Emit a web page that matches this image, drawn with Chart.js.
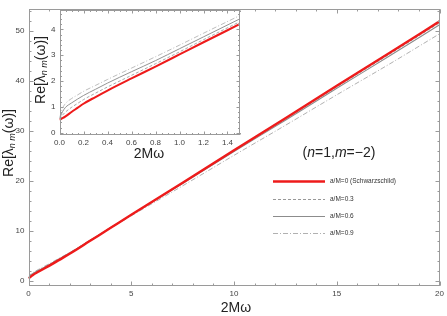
<!DOCTYPE html>
<html><head><meta charset="utf-8">
<script src="https://cdn.jsdelivr.net/npm/chart.js@4/dist/chart.umd.min.js"></script>
<style>
html,body{margin:0;padding:0;background:#fff;}
#wrap{position:relative;width:447px;height:316px;overflow:hidden;}
canvas{position:absolute;left:0;top:0;}
</style></head><body>
<div id="wrap"><canvas id="main" width="447" height="316"></canvas><canvas id="inset" width="250" height="170"></canvas></div>
<script>
// ---- data ----
const mainX   = [0, 0.1, 0.2, 0.5, 1, 1.5, 2, 3, 4, 5, 7.5, 10, 12.5, 15, 17.5, 20];
const mainA0  = [0.5, 0.8, 1.12, 1.86, 3.0, 4.2, 5.4, 8.0, 10.6, 13.2, 19.6, 26.1, 32.5, 39.0, 45.4, 51.9];
const mainA03 = [0.52, 0.98, 1.28, 2.0, 3.12, 4.29, 5.48, 8.04, 10.61, 13.2, 19.55, 26.0, 32.35, 38.8, 45.15, 51.6];
const mainA06 = [0.55, 1.15, 1.44, 2.13, 3.22, 4.4, 5.57, 8.12, 10.65, 13.2, 19.48, 25.85, 32.12, 38.5, 44.8, 51.2];
const mainA09 = [0.58, 1.32, 1.6, 2.32, 3.4, 4.53, 5.65, 8.1, 10.55, 13.0, 19.0, 25.1, 31.1, 37.2, 43.2, 49.4];

const insetX   = [0, 0.025, 0.05, 0.1, 0.15, 0.2, 0.3, 0.4, 0.6, 0.8, 1.0, 1.2, 1.5];
const insetA0  = [0.5, 0.56, 0.63, 0.8, 0.96, 1.12, 1.38, 1.63, 2.1, 2.56, 3.03, 3.5, 4.2];
const insetA03 = [0.52, 0.68, 0.80, 0.98, 1.13, 1.28, 1.53, 1.77, 2.22, 2.67, 3.13, 3.6, 4.29];
const insetA06 = [0.55, 0.81, 0.98, 1.15, 1.30, 1.44, 1.68, 1.92, 2.36, 2.79, 3.25, 3.71, 4.4];
const insetA09 = [0.58, 0.94, 1.13, 1.32, 1.46, 1.6, 1.83, 2.06, 2.5, 2.94, 3.39, 3.85, 4.53];

const seriesLabels = ['a/M=0 (Schwarzschild)', 'a/M=0.3', 'a/M=0.6', 'a/M=0.9'];
const mainXTicks  = [0, 5, 10, 15, 20];
const mainYTicks  = [0, 10, 20, 30, 40, 50];
const insetXTicks = [0, 0.2, 0.4, 0.6, 0.8, 1.0, 1.2, 1.4];
const insetYTicks = [0, 1, 2, 3, 4];
const xTitle = '2M\u03C9';
const annotation = ['(', 'n', '=1,', 'm', '=\u22122)'];

// ---- styles ----
const FONT = "'Liberation Sans', Arial, sans-serif";
const styles = [
  {color:'#ee1b1b', width:2.4, dash:[]},
  {color:'#8c8c8c', width:0.9, dash:[3,2]},
  {color:'#8c8c8c', width:1.1, dash:[]},
  {color:'#a8a8a8', width:0.9, dash:[5,2,1,2]}
];

function makeDatasets(xs, series, widthScale){
  return series.map((ys, i) => ({
    label: seriesLabels[i],
    data: xs.map((x, j) => ({x: x, y: ys[j]})),
    borderColor: styles[i].color,
    borderWidth: styles[i].width * widthScale,
    borderDash: styles[i].dash,
    pointRadius: 0,
    fill: false,
    cubicInterpolationMode: 'monotone'
  }));
}

function drawReLambda(ctx, cx, cy, size){
  const parts = [
    {t:'Re[\u03BB', f: size + 'px ' + FONT, dy: 0},
    {t:'n m', f: 'italic ' + Math.round(size*0.62) + 'px ' + FONT, dy: size*0.28},
    {t:'(\u03C9)]', f: size + 'px ' + FONT, dy: 0}
  ];
  ctx.save();
  ctx.translate(cx, cy);
  ctx.rotate(-Math.PI/2);
  let total = 0;
  parts.forEach(p => { ctx.font = p.f; p.w = ctx.measureText(p.t).width; total += p.w; });
  let x = -total/2;
  ctx.fillStyle = '#222';
  ctx.textBaseline = 'middle';
  ctx.textAlign = 'left';
  parts.forEach(p => { ctx.font = p.f; ctx.fillText(p.t, x, p.dy); x += p.w; });
  ctx.restore();
}

function framePlugin(cfg){
  return {
    id: 'frame',
    beforeDatasetsDraw(chart){
      const a = chart.chartArea, ctx = chart.ctx;
      ctx.save(); ctx.fillStyle = '#fff';
      ctx.fillRect(a.left, a.top, a.right - a.left, a.bottom - a.top);
      ctx.restore();
    },
    afterDatasetsDraw(chart){
      const a = chart.chartArea, ctx = chart.ctx, sx = chart.scales.x, sy = chart.scales.y;
      ctx.save();
      ctx.strokeStyle = '#9a9a9a';
      ctx.lineWidth = 1;
      const L = Math.round(a.left) + 0.5, R = Math.round(a.right) - 0.5;
      const T = Math.round(a.top) + 0.5, B = Math.round(a.bottom) - 0.5;
      ctx.strokeRect(L, T, R - L, B - T);
      ctx.beginPath();
      const tick = (v, len, axis) => {
        if (axis === 'x') {
          const p = Math.round(sx.getPixelForValue(v)) + 0.5;
          if (p < L - 1 || p > R + 1) return;
          ctx.moveTo(p, B); ctx.lineTo(p, B - len);
          ctx.moveTo(p, T); ctx.lineTo(p, T + len);
        } else {
          const p = Math.round(sy.getPixelForValue(v)) + 0.5;
          if (p < T - 1 || p > B + 1) return;
          ctx.moveTo(L, p); ctx.lineTo(L + len, p);
          ctx.moveTo(R, p); ctx.lineTo(R - len, p);
        }
      };
      for (let v = cfg.xMin; v <= cfg.xMax + 1e-9; v += cfg.xMinor) tick(+v.toFixed(4), cfg.minorLen, 'x');
      for (let v = cfg.yMinorStart; v <= cfg.yMax + 1e-9; v += cfg.yMinor) tick(+v.toFixed(4), cfg.minorLen, 'y');
      cfg.xTicks.forEach(v => tick(v, cfg.majorLen, 'x'));
      cfg.yTicks.forEach(v => tick(v, cfg.majorLen, 'y'));
      ctx.stroke();
      ctx.restore();
    },
    afterDraw(chart){
      const ctx = chart.ctx;
      drawReLambda(ctx, cfg.yTitle[0], cfg.yTitle[1], 14);
      ctx.save();
      ctx.fillStyle = '#222';
      ctx.font = '14px ' + FONT;
      ctx.textAlign = 'center';
      ctx.textBaseline = 'middle';
      ctx.fillText(xTitle, cfg.xTitle[0], cfg.xTitle[1]);
      ctx.restore();
      if (cfg.extra) cfg.extra(chart);
    }
  };
}

function drawLegendAndNote(chart){
  const ctx = chart.ctx;
  // annotation (n=1,m=-2)
  ctx.save();
  ctx.fillStyle = '#222';
  ctx.textBaseline = 'middle';
  ctx.textAlign = 'left';
  const fonts = annotation.map((t, i) => (i === 1 || i === 3 ? 'italic ' : '') + '14px ' + FONT);
  let tw = 0;
  const ws = annotation.map((t, i) => { ctx.font = fonts[i]; const w = ctx.measureText(t).width; tw += w; return w; });
  let x = 339 - tw/2;
  annotation.forEach((t, i) => { ctx.font = fonts[i]; ctx.fillText(t, x, 153); x += ws[i]; });
  // legend
  const rows = [181, 199, 216, 233];
  chart.data.datasets.forEach((ds, i) => {
    ctx.save();
    ctx.strokeStyle = ds.borderColor;
    ctx.lineWidth = ds.borderWidth;
    ctx.setLineDash(ds.borderDash);
    ctx.beginPath();
    ctx.moveTo(273, rows[i] + 0.5); ctx.lineTo(325, rows[i] + 0.5);
    ctx.stroke();
    ctx.restore();
    ctx.font = '6.5px ' + FONT;
    ctx.fillStyle = '#333';
    ctx.fillText(ds.label, 330, rows[i]);
  });
  ctx.restore();
}

const tickFont = {family: FONT, size: 8};
const tickColor = '#444';

// ---- main chart ----
new Chart(document.getElementById('main'), {
  type: 'line',
  data: { datasets: makeDatasets(mainX, [mainA0, mainA03, mainA06, mainA09], 1) },
  options: {
    responsive: false, animation: false, devicePixelRatio: 1,
    layout: { padding: {left: 0, right: 6, top: 1, bottom: 0} },
    plugins: { legend: {display: false}, tooltip: {enabled: false} },
    scales: {
      x: {
        type: 'linear', min: 0, max: 20,
        grid: {display: false, drawTicks: false}, border: {display: false},
        afterBuildTicks: s => { s.ticks = mainXTicks.map(v => ({value: v})); },
        afterFit: s => { s.height = 30; },
        ticks: {font: tickFont, color: tickColor, padding: 3, maxRotation: 0, autoSkip: false}
      },
      y: {
        type: 'linear', min: -1.03, max: 54.4,
        grid: {display: false, drawTicks: false}, border: {display: false},
        afterBuildTicks: s => { s.ticks = mainYTicks.map(v => ({value: v})); },
        afterFit: s => { s.width = 28.5; },
        ticks: {font: tickFont, color: tickColor, padding: 4, autoSkip: false}
      }
    }
  },
  plugins: [framePlugin({
    xMin: 0, xMax: 20, xMinor: 1, yMinorStart: 0, yMax: 54.4, yMinor: 2,
    xTicks: mainXTicks, yTicks: mainYTicks, majorLen: 4, minorLen: 2,
    yTitle: [9, 143], xTitle: [236, 308], extra: drawLegendAndNote
  })]
});

// ---- inset chart ----
new Chart(document.getElementById('inset'), {
  type: 'line',
  data: { datasets: makeDatasets(insetX, [insetA0, insetA03, insetA06, insetA09], 0.85) },
  options: {
    responsive: false, animation: false, devicePixelRatio: 1,
    layout: { padding: {left: 0, right: 10.5, top: 10, bottom: 0} },
    plugins: { legend: {display: false}, tooltip: {enabled: false} },
    scales: {
      x: {
        type: 'linear', min: 0, max: 1.5,
        grid: {display: false, drawTicks: false}, border: {display: false},
        afterBuildTicks: s => { s.ticks = insetXTicks.map(v => ({value: v})); },
        afterFit: s => { s.height = 35; },
        ticks: {font: tickFont, color: tickColor, padding: 3, maxRotation: 0, autoSkip: false,
                callback: v => v.toFixed(1)}
      },
      y: {
        type: 'linear', min: -0.09, max: 4.75,
        grid: {display: false, drawTicks: false}, border: {display: false},
        afterBuildTicks: s => { s.ticks = insetYTicks.map(v => ({value: v})); },
        afterFit: s => { s.width = 59.5; },
        ticks: {font: tickFont, color: tickColor, padding: 4, autoSkip: false}
      }
    }
  },
  plugins: [framePlugin({
    xMin: 0, xMax: 1.5, xMinor: 0.05, yMinorStart: 0, yMax: 4.75, yMinor: 0.2,
    xTicks: insetXTicks, yTicks: insetYTicks, majorLen: 3, minorLen: 1.5,
    yTitle: [41, 70], xTitle: [149, 154]
  })]
});
</script>
</body></html>
